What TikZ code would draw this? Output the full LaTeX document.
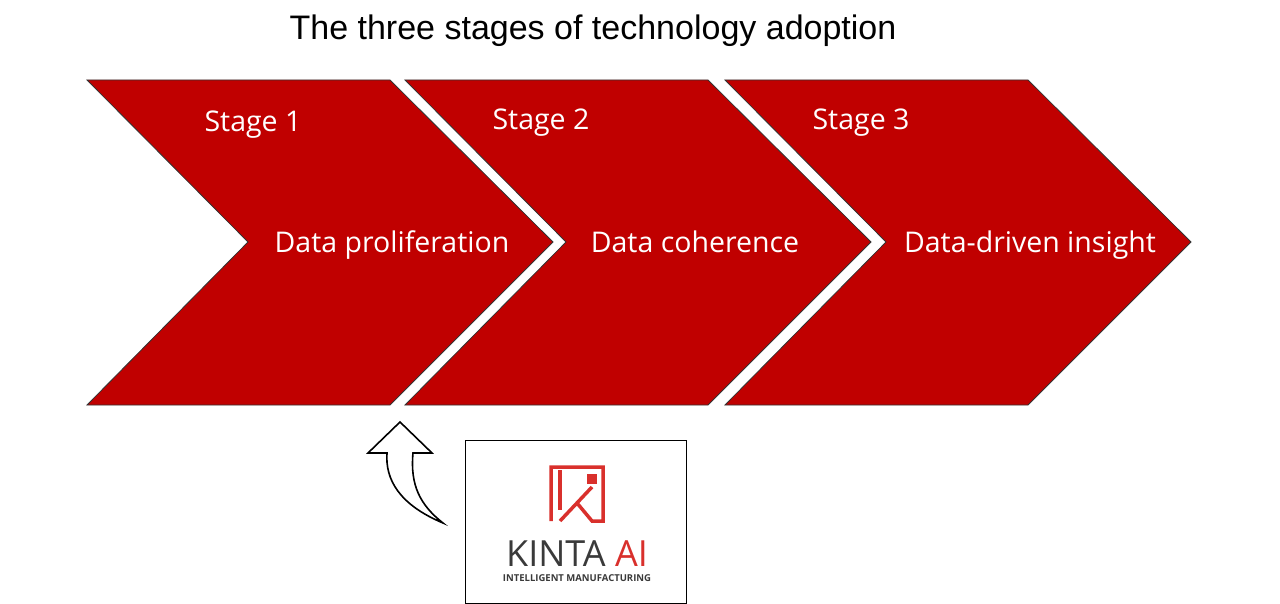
\documentclass[tikz,border=0pt]{standalone}
\usepackage{fontspec}
\setmainfont{Open Sans}
\newfontfamily\titlefont{Liberation Sans}
\definecolor{stagered}{HTML}{C00000}
\definecolor{kintared}{HTML}{D9302C}
\definecolor{kintagrey}{HTML}{3A3A3A}
\begin{document}
\begin{tikzpicture}[x=1pt,y=-1pt]
    \tikzset{
        chevron/.style={fill=stagered,draw=black!80,line width=0.8pt},
        stagelbl/.style={text=white,font=\fontsize{28.5}{32}\selectfont,inner sep=0pt,anchor=base},
        phaselbl/.style={text=white,font=\fontsize{28.5}{32}\selectfont,inner sep=0pt,anchor=base}
    }
    \useasboundingbox[fill=white] (0,0) rectangle (1280,604);
    \node[font=\titlefont\fontsize{34}{38}\selectfont,inner sep=0pt] (title) at (593,31) {The three stages of technology adoption};
    % chevrons
    \foreach \dx/\n in {0/1,318/2,638/3}{
        \draw[chevron] (87+\dx,80) -- (390+\dx,80) -- (553+\dx,242) -- (390+\dx,405)
            -- (87+\dx,405) -- (248+\dx,242) -- cycle;
    }
    % labels
    \node[stagelbl] (st1) at (253,132) {Stage 1};
    \node[stagelbl] (st2) at (541,130) {Stage 2};
    \node[stagelbl] (st3) at (861,130) {Stage 3};
    \node[phaselbl] (ph1) at (392,252) {Data proliferation};
    \node[phaselbl] (ph2) at (695,252) {Data coherence};
    \node[phaselbl] (ph3) at (1030,252) {Data-driven insight};
    % curved arrow
    \draw[fill=white,line width=1.6pt,line join=miter] (443,523)
        .. controls (400,505) and (385,480) .. (387,453) -- (368,453) -- (400,422)
        -- (432,453) -- (413,453) .. controls (410,485) and (420,505) .. cycle;
    % logo
    \node[draw=black,line width=1pt,minimum width=221pt,minimum height=163pt,inner sep=0pt] (logo) at (575.5,521.5) {};
    \draw[kintared,line width=3.5pt,line cap=butt] (551,521) -- (551,467) -- (603,467) -- (603,521) -- (592,521) -- (577,503);
    \draw[kintared,line width=3.5pt] (560,521) -- (592,487);
    \draw[kintared,line width=3.5pt] (560,470) -- (560,510);
    \fill[kintared] (587,474) rectangle (597,484);
    \node[font=\fontsize{36}{40}\selectfont,inner sep=0pt,anchor=base] (kinta) at (577,566) {\textcolor{kintagrey}{KINTA} \textcolor{kintared}{AI}};
    \node[font=\fontsize{9.5}{11}\selectfont\bfseries,text=kintagrey,inner sep=0pt,anchor=base] (tagline) at (577,581) {INTELLIGENT MANUFACTURING};
\end{tikzpicture}
\end{document}
